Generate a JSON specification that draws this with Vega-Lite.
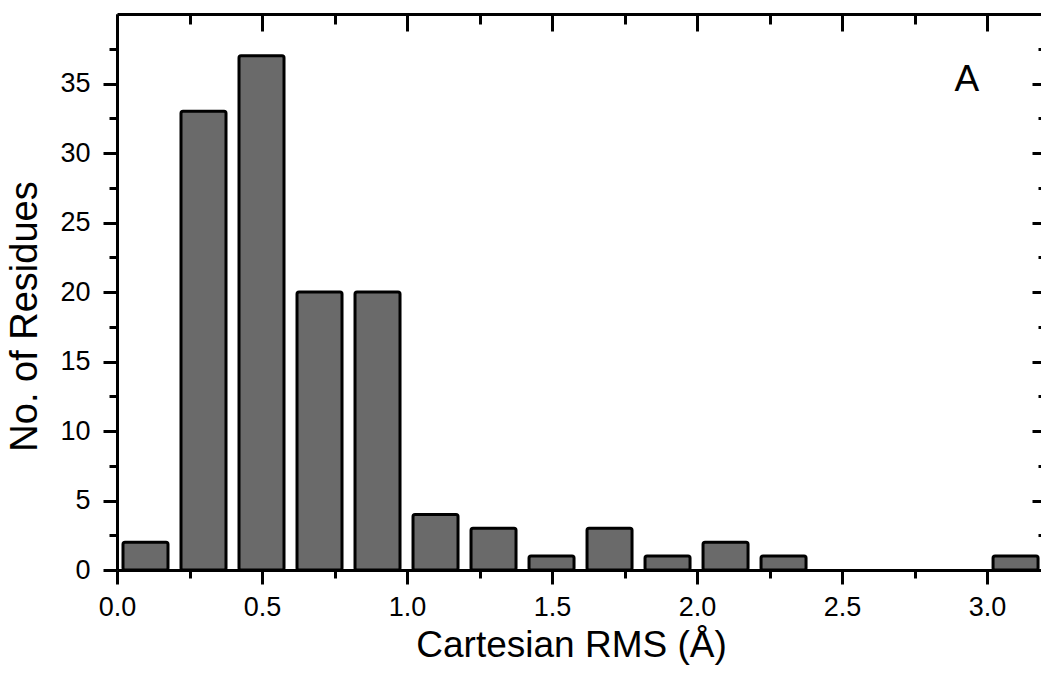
{
  "$schema": "https://vega.github.io/schema/vega-lite/v6.json",
  "autosize": "none",
  "width": 924,
  "height": 556,
  "padding": {"left": 117, "top": 14, "right": 0, "bottom": 112},
  "background": "white",
  "config": {"view": {"stroke": null}, "font": "Liberation Sans"},
  "data": {"values": [
    {"start": 0.0, "end": 0.2, "count": 2},
    {"start": 0.2, "end": 0.4, "count": 33},
    {"start": 0.4, "end": 0.6, "count": 37},
    {"start": 0.6, "end": 0.8, "count": 20},
    {"start": 0.8, "end": 1.0, "count": 20},
    {"start": 1.0, "end": 1.2, "count": 4},
    {"start": 1.2, "end": 1.4, "count": 3},
    {"start": 1.4, "end": 1.6, "count": 1},
    {"start": 1.6, "end": 1.8, "count": 3},
    {"start": 1.8, "end": 2.0, "count": 1},
    {"start": 2.0, "end": 2.2, "count": 2},
    {"start": 2.2, "end": 2.4, "count": 1},
    {"start": 3.0, "end": 3.2, "count": 1}
  ]},
  "layer": [
    {
      "mark": {"type": "bar", "fill": "#6a6a6a", "stroke": "black", "strokeWidth": 3, "cornerRadius": 2, "xOffset": 6, "x2Offset": -7, "clip": true},
      "encoding": {
        "x": {"field": "start", "type": "quantitative",
          "scale": {"domain": [0, 3.186], "nice": false, "zero": false},
          "axis": {"orient": "bottom", "values": [0,0.25,0.5,0.75,1,1.25,1.5,1.75,2,2.25,2.5,2.75,3],
            "grid": false, "domainColor": "black", "domainWidth": 3,
            "tickColor": "black", "tickWidth": 3,
            "tickSize": {"condition": {"test": "datum.value % 0.5 === 0", "value": 14}, "value": 8},
            "labelExpr": "datum.value % 0.5 ? '' : format(datum.value, '.1f')",
            "labelFontSize": 27, "labelColor": "black", "labelBaseline": "alphabetic", "labelPadding": 31, "labelFlush": false, "labelOverlap": false,
            "title": "Cartesian RMS (Å)", "titleFontSize": 37, "titleFontWeight": "normal", "titleColor": "black",
            "titleX": 454, "titleY": 86, "titleBaseline": "alphabetic", "titleAlign": "center"}},
        "x2": {"field": "end"},
        "y": {"field": "count", "type": "quantitative",
          "scale": {"domain": [0, 40], "nice": false},
          "axis": {"orient": "left", "values": [0,2.5,5,7.5,10,12.5,15,17.5,20,22.5,25,27.5,30,32.5,35,37.5],
            "grid": false, "domainColor": "black", "domainWidth": 3,
            "tickColor": "black", "tickWidth": 3,
            "tickSize": {"condition": {"test": "datum.value % 5 === 0", "value": 14}, "value": 8},
            "labelExpr": "datum.value % 5 ? '' : format(datum.value, 'd')",
            "labelFontSize": 27, "labelColor": "black", "labelBaseline": "middle", "labelPadding": 13, "labelOverlap": false, "labelFlush": false,
            "title": "No. of Residues", "titleFontSize": 38, "titleFontWeight": "normal", "titleColor": "black",
            "titleX": -81, "titleY": 302, "titleBaseline": "alphabetic", "titleAlign": "center", "titleAngle": -90}},
        "y2": {"datum": 0}
      }
    },
    {
      "mark": {"type": "bar", "opacity": 0},
      "encoding": {
        "x": {"field": "start", "type": "quantitative",
          "scale": {"domain": [0, 3.186], "nice": false, "zero": false},
          "axis": {"orient": "top", "values": [0,0.25,0.5,0.75,1,1.25,1.5,1.75,2,2.25,2.5,2.75,3],
            "grid": false, "domainColor": "black", "domainWidth": 3, "labels": false, "title": null,
            "tickColor": "black", "tickWidth": 3,
            "tickSize": {"condition": {"test": "datum.value % 0.5 === 0", "value": -17}, "value": -10}}},
        "x2": {"field": "end"},
        "y": {"field": "count", "type": "quantitative",
          "scale": {"domain": [0, 40], "nice": false},
          "axis": {"orient": "right", "offset": 7, "values": [0,2.5,5,7.5,10,12.5,15,17.5,20,22.5,25,27.5,30,32.5,35,37.5],
            "grid": false, "domainColor": "black", "domainWidth": 3, "labels": false, "title": null,
            "tickColor": "black", "tickWidth": 3,
            "tickSize": {"condition": {"test": "datum.value % 5 === 0", "value": -16}, "value": -10}}},
        "y2": {"datum": 0}
      }
    },
    {
      "data": {"values": [{"panel": "A", "px": 2.93, "py": 34.45}]},
      "mark": {"type": "text", "fontSize": 37, "align": "center", "baseline": "alphabetic", "color": "black", "font": "Liberation Sans"},
      "encoding": {
        "x": {"field": "px", "type": "quantitative", "axis": null},
        "y": {"field": "py", "type": "quantitative", "axis": null},
        "text": {"field": "panel"}
      }
    }
  ],
  "resolve": {"axis": {"x": "independent", "y": "independent"}}
}
